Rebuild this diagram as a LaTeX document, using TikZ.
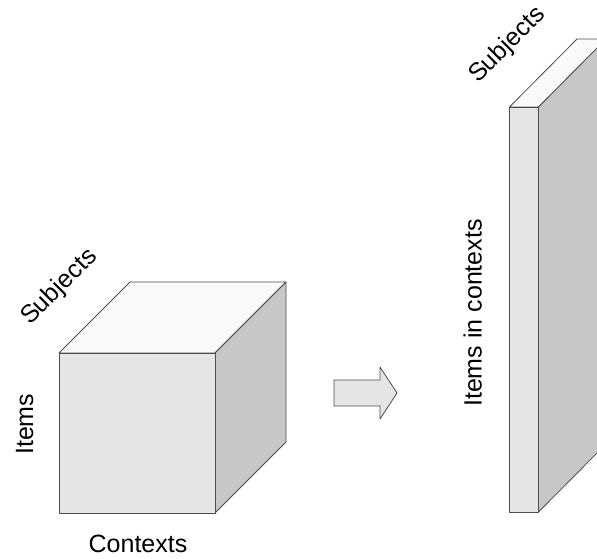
\documentclass[tikz,border=0pt]{standalone}
\usepackage{fontspec}
\setmainfont{Liberation Sans}
\usepackage{tikz}

\begin{document}
\begin{tikzpicture}
      [   x=1pt,y=-1pt,
          face/.style={draw=black!70,fill=#1,line width=0.8pt,line join=round},
          lbl/.style={font=\fontsize{25}{30}\selectfont,inner sep=0pt},
      ]
          \clip (0,0) rectangle (597,558);

          % cube
          \filldraw[face=black!2] (59,353) -- (130,282) -- (286,282) -- (215,353) -- cycle;
          \filldraw[face=black!22] (215,353) -- (286,282) -- (286,442) -- (215,513) -- cycle;
          \filldraw[face=black!10] (59,353) rectangle (215,513);
          \node[lbl,rotate=45,anchor=base west] (subj) at (30,326) {Subjects};
          \node[lbl,rotate=90,anchor=base west] (items) at (33,455) {Items};
          \node[lbl,anchor=base] (ctx) at (138,552) {Contexts};

          % arrow
          \filldraw[face=black!10] (334,380) -- (380,380) -- (380,367) -- (397,393)
              -- (380,419) -- (380,406) -- (334,406) -- cycle;

          % slab
          \filldraw[face=black!2] (509.5,107) -- (577,39) -- (606,39) -- (538.5,107) -- cycle;
          \filldraw[face=black!22] (538.5,107) -- (606,39) -- (606,444) -- (538.5,512) -- cycle;
          \filldraw[face=black!10] (509.5,107) rectangle (538.5,512);
          \node[lbl,rotate=45,anchor=base west] (subj2) at (478,84) {Subjects};
          \node[lbl,rotate=90,anchor=base west] (iic) at (481.5,407) {Items in contexts};
    \end{tikzpicture}
\end{document}
